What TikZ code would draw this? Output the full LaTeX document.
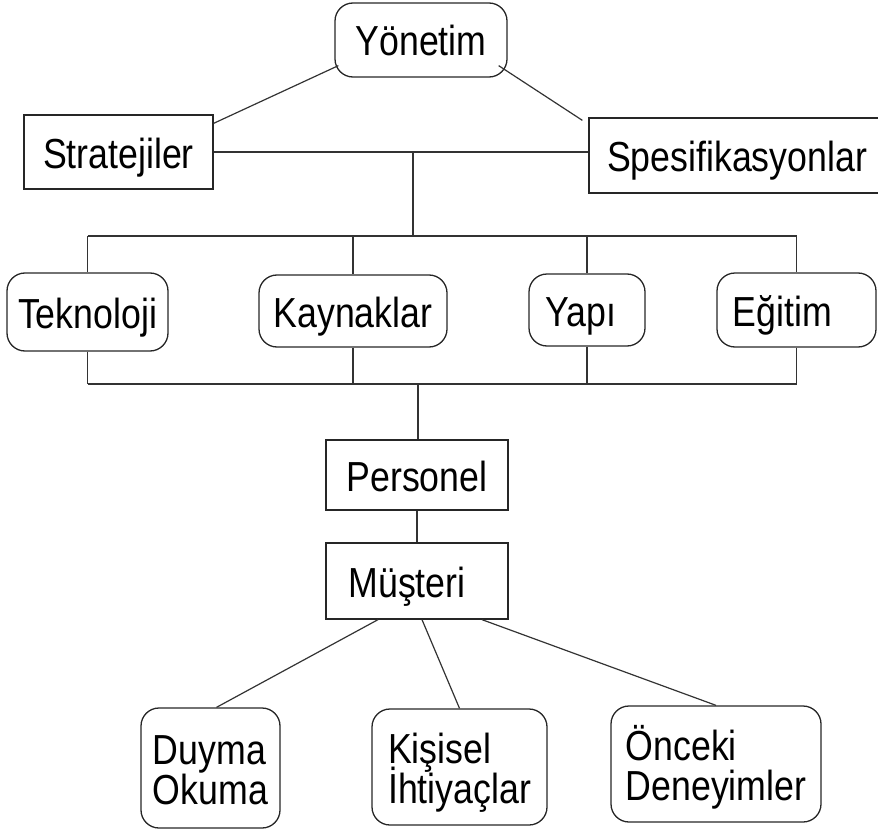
\documentclass[tikz,border=0pt]{standalone}
\usepackage{fontspec}
\setmainfont{Liberation Sans}[FakeStretch=0.85]
\usetikzlibrary{calc}
\newcommand\boxfont{\fontsize{42}{40}\selectfont\lineskiplimit=-100pt\relax}
\begin{document}
\begin{tikzpicture}[x=1pt,y=-1pt,
  base/.style={draw=black!85, line width=1.3pt, inner sep=0pt,
    font=\boxfont, text=black, align=left},
  one/.style={text height=32pt, text depth=0pt},
  two/.style={text height=72pt, text depth=0pt},
  sq/.style={base, one},
  rnd/.style={base, rounded corners=18pt},
  link/.style={draw=black!80, line width=1.2pt}]
\useasboundingbox (0,0) rectangle (878,832);
\clip (0,0) rectangle (878,832);

% top level
\node[rnd, one, minimum width=172pt, minimum height=74pt] (yon) at (421,40) {Yönetim};
\node[sq, minimum width=189pt, minimum height=74pt] (str) at (118.5,152) {Stratejiler};
\node[sq, minimum width=296pt, minimum height=75pt] (spe) at (737,155.5) {Spesifikasyonlar};

% middle row
\node[rnd, one, minimum width=161pt, minimum height=78pt] (tek) at (87.5,312) {Teknoloji};
\node[rnd, one, minimum width=188pt, minimum height=72pt] (kay) at (353,311) {Kaynaklar};
\node[rnd, one, minimum width=116pt, minimum height=72pt] (yap) at (587,310) {Yapı\hspace{12pt}};
\node[rnd, one, minimum width=159pt, minimum height=74pt] (egi) at (796.5,310) {Eğitim\hspace{28pt}};

% chain
\node[sq, minimum width=182pt, minimum height=70pt] (per) at (417,475) {Personel};
\node[sq, minimum width=182pt, minimum height=76pt] (mus) at (417,581) {Müşteri\hspace{20pt}};

% bottom row
\node[rnd, two, minimum width=139pt, minimum height=120pt] (duy) at (210.5,768) {Duyma\\Okuma};
\node[rnd, two, minimum width=175pt, minimum height=116pt] (kis) at (459.5,767) {Kişisel\\İhtiyaçlar};
\node[rnd, two, minimum width=210pt, minimum height=116pt] (onc) at (716,764) {Önceki\\Deneyimler};

% connectors, top
\draw[link] ($(yon.south west)+(4,-12)$) -- ($(str.north east)+(0,9)$);
\draw[link] ($(yon.south east)+(-9,-12)$) -- ($(spe.north west)+(-6,3)$);
\draw[link] (str.east) -- (str.east -| spe.west);
\coordinate (j1) at (413,152);
\coordinate (bus1) at (413,236);
\draw[link] (j1) -- (bus1);
\draw[link] (tek.north |- bus1) -- (egi.north |- bus1);
\foreach \n in {tek,kay,yap,egi}
  \draw[link] (\n.north |- bus1) -- (\n.north);

% connectors, middle
\coordinate (bus2) at (418,384);
\draw[link] (tek.south |- bus2) -- (egi.south |- bus2);
\foreach \n in {tek,kay,yap,egi}
  \draw[link] (\n.south) -- (\n.south |- bus2);
\draw[link] (bus2) -- (bus2 |- per.north);
\draw[link] (per.south) -- (mus.north);

% connectors, bottom
\draw[link] ($(mus.south)+(-39,0)$) -- ($(duy.north)+(6,0)$);
\draw[link] ($(mus.south)+(5,0)$) -- (kis.north);
\draw[link] ($(mus.south)+(65,0)$) -- (onc.north);
\end{tikzpicture}
\end{document}
